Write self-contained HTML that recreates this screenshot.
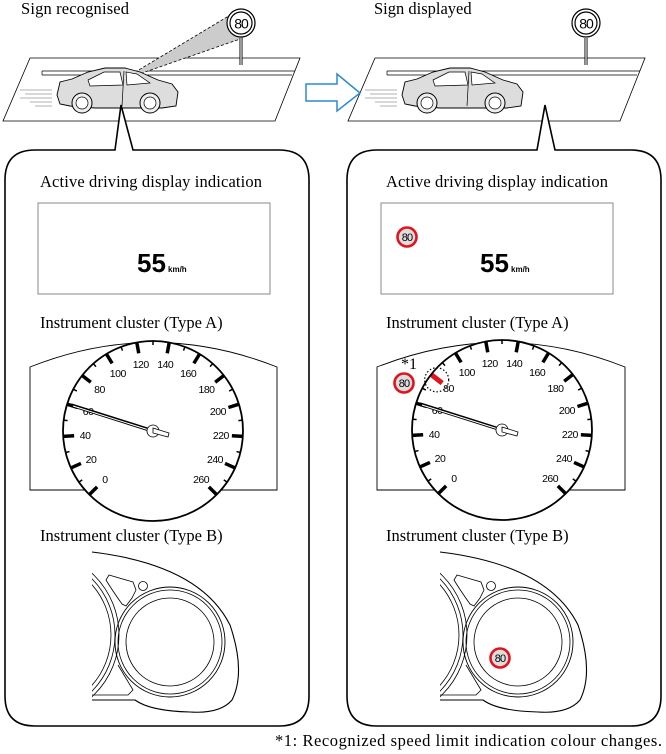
<!DOCTYPE html>
<html><head><meta charset="utf-8"><style>
html,body{margin:0;padding:0;background:#fff}
svg{display:block}
text{font-family:"Liberation Serif",serif}
.s{font-family:"Liberation Sans",sans-serif}
</style></head><body>
<svg id="g" width="666" height="754" viewBox="0 0 666 754" xmlns="http://www.w3.org/2000/svg">
<defs>
<g id="car">
  <path d="M57,95 L60,82 L72,79 L88,72 L105,68 L125,68 L140,72 L158,80 L172,84 L178,92 L176,106 L162,108 L138,108 L95,108 L70,106 L60,104 Z" fill="#ddd" stroke="#000" stroke-width="0.9"/>
  <path d="M88,80 L104,72 L120,72 L123,85 L90,86 Z M126,72 L137,74 L150,83 L127,85 Z" fill="#fff" stroke="#000" stroke-width="0.7"/>
  <line x1="124" y1="71" x2="122" y2="106" stroke="#000" stroke-width="0.7"/>
  <circle cx="82" cy="103" r="10" fill="#eee" stroke="#000"/><circle cx="82" cy="103" r="6" fill="#fff" stroke="#000" stroke-width="0.7"/>
  <circle cx="150" cy="103" r="10" fill="#eee" stroke="#000"/><circle cx="150" cy="103" r="6" fill="#fff" stroke="#000" stroke-width="0.7"/>
  <g stroke="#999" stroke-width="0.8"><line x1="20" y1="90" x2="52" y2="90"/><line x1="25" y1="94" x2="52" y2="94"/><line x1="20" y1="98" x2="52" y2="98"/><line x1="30" y1="102" x2="52" y2="102"/><line x1="35" y1="106" x2="52" y2="106"/></g>
</g>
<g id="road">
  <path d="M30,58 L300,58 L275,121 L3,121 Z" fill="#fff" stroke="#000" stroke-width="0.8"/>
  <path d="M42,71 L295,71 M42,75 L292,75 M42,71 L42,75" stroke="#000" stroke-width="0.7" fill="none"/>
</g>
<g id="rsign">
  <line x1="241" y1="38" x2="241" y2="65" stroke="#000" stroke-width="3"/>
  <line x1="241" y1="38" x2="241" y2="65" stroke="#fff" stroke-width="1.2"/>
  <circle cx="241" cy="23" r="14" fill="#fff" stroke="#000" stroke-width="1.2"/>
  <circle cx="241" cy="23" r="11" fill="#fff" stroke="#000" stroke-width="1.2"/>
  <text x="241" y="28.5" text-anchor="middle" class="s" font-size="14" letter-spacing="-1">80</text>
</g>
<g id="sign80"><circle r="9.5" fill="#ddd" stroke="#e0141e" stroke-width="2.6"/><text y="4" text-anchor="middle" class="s" font-size="11" letter-spacing="-0.8">80</text></g>
</defs>

<text x="21" y="14" font-size="16.5" textLength="108">Sign recognised</text>
<text x="374" y="14" font-size="16.5">Sign displayed</text>

<use href="#road"/>
<path d="M122,80 L232,14 L243,38 Z" fill="#ccc" stroke="#000" stroke-width="0.8" stroke-dasharray="3,2"/>
<use href="#rsign"/>
<use href="#car"/>
<g transform="translate(345,0)"><use href="#road"/><use href="#rsign"/><use href="#car"/></g>

<path d="M306,84 L337,84 L337,74 L360,93 L337,111 L337,101 L306,101 Z" fill="#fff" stroke="#2a8ad4" stroke-width="1.5"/>

<path d="M35,150 L115,150 L121,105 L133,150 L279,150 Q309,150 309,180 L309,696 Q309,726 279,726 L35,726 Q5,726 5,696 L5,180 Q5,150 35,150 Z" fill="#fff" stroke="#000" stroke-width="1.6"/>
<path d="M377,150 L537,150 L545,105 L555,150 L631,150 Q661,150 661,180 L661,696 Q661,726 631,726 L377,726 Q347,726 347,696 L347,180 Q347,150 377,150 Z" fill="#fff" stroke="#000" stroke-width="1.6"/>

<text x="40" y="187" font-size="16.5" textLength="222">Active driving display indication</text>
<text x="386" y="187" font-size="16.5" textLength="222">Active driving display indication</text>
<rect x="38" y="203" width="232" height="91" fill="#fff" stroke="#888" stroke-width="1"/>
<rect x="381" y="203" width="232" height="91" fill="#fff" stroke="#888" stroke-width="1"/>
<text x="137" y="272" class="s" font-size="26" font-weight="bold">55</text><text x="168" y="272" class="s" font-size="8" font-weight="bold">km/h</text>
<text x="480" y="272" class="s" font-size="26" font-weight="bold">55</text><text x="511" y="272" class="s" font-size="8" font-weight="bold">km/h</text>
<use href="#sign80" x="407" y="237"/>

<text x="40" y="328" font-size="16.5">Instrument cluster (Type A)</text>
<text x="386" y="328" font-size="16.5">Instrument cluster (Type A)</text>
<text x="40" y="541" font-size="16.5">Instrument cluster (Type B)</text>
<text x="386" y="541" font-size="16.5">Instrument cluster (Type B)</text>

<g id="gauges"></g>

<text x="662" y="746" text-anchor="end" font-size="16.5" textLength="387">*1: Recognized speed limit indication colour changes.</text>
</svg>
<script>
var g=document.getElementById('gauges'),h='';
function gauge(cx,cy,bx0,bx1,right){
  var r=90;
  h+='<path d="M'+bx0+',490 L'+bx0+',367 Q'+cx+',318 '+bx1+',367 L'+bx1+',490 Z" fill="#fff" stroke="#000" stroke-width="0.9"/>';
  h+='<circle cx="'+cx+'" cy="'+cy+'" r="'+r+'" fill="#fff" stroke="#000" stroke-width="1.8"/>';
  for(var v=0;v<=260;v+=10){
    var a=(-135+v*270/260)*Math.PI/180,s=Math.sin(a),c=-Math.cos(a);
    var maj=v%20==0,l=maj?11:4,w=maj?3.5:1.5;
    h+='<line x1="'+(cx+s*r)+'" y1="'+(cy+c*r)+'" x2="'+(cx+s*(r-l))+'" y2="'+(cy+c*(r-l))+'" stroke="#000" stroke-width="'+w+'"/>';
    if(maj){var lr=r-22;h+='<text class="s" x="'+(cx+s*lr)+'" y="'+(cy+c*lr+4)+'" text-anchor="middle" font-size="10.5" letter-spacing="-0.5">'+v+'</text>';}
  }
  h+='<line x1="'+(cx-82)+'" y1="'+(cy-26)+'" x2="'+cx+'" y2="'+(cy)+'" stroke="#000" stroke-width="3.5"/>';
  h+='<line x1="'+(cx-80)+'" y1="'+(cy-25)+'" x2="'+(cx-4)+'" y2="'+(cy-1)+'" stroke="#fff" stroke-width="1"/>';
  h+='<circle cx="'+cx+'" cy="'+cy+'" r="6" fill="#fff" stroke="#000" stroke-width="0.8"/>';
  h+='<path d="M'+(cx)+','+(cy-3)+' L'+(cx+16)+','+(cy+2)+' L'+(cx+15)+','+(cy+6)+' L'+(cx)+','+(cy+2)+'Z" fill="#fff" stroke="#000" stroke-width="0.8"/>';
  if(right){
    var a=(-135+80*270/260)*Math.PI/180,s=Math.sin(a),c=-Math.cos(a);
    h+='<line x1="'+(cx+s*(r-1))+'" y1="'+(cy+c*(r-1))+'" x2="'+(cx+s*(r-14))+'" y2="'+(cy+c*(r-14))+'" stroke="#e0141e" stroke-width="5"/>';
    h+='<circle cx="'+(cx+s*(r-7))+'" cy="'+(cy+c*(r-7)+1)+'" r="12" fill="none" stroke="#000" stroke-width="1.2" stroke-dasharray="1.5,2"/>';
    h+='<text x="'+(cx-101)+'" y="'+(cy-61)+'" font-size="16">*1</text>';
    h+='<use href="#sign80" x="'+(cx-98)+'" y="'+(cy-47)+'"/>';
  }
}
gauge(153,431,30,277,false);
gauge(502,430,377,625,true);
function typeB(dx,sign){
  h+='<g transform="translate('+dx+',0)" fill="none" stroke="#000">';
  h+='<clipPath id="cl'+dx+'"><rect x="92" y="545" width="160" height="170"/></clipPath>';
  h+='<path d="M92,552 Q200,565 230,625 Q246,672 232,700 Q220,714 190,712 Q150,711 135,700 L92,700" stroke-width="1.1"/>';
  h+='<g clip-path="url(#cl'+dx+')" stroke-width="0.8"><circle cx="35" cy="635" r="76"/><circle cx="35" cy="635" r="80"/><circle cx="35" cy="635" r="84"/></g>';
  h+='<path d="M92,695 L128,695 L133,690 L118,665" stroke-width="0.8"/>';
  h+='<path d="M109,575 L133,582 L136,590 L132,598 L126,606 L122,604 Q112,590 106,580 Z" stroke-width="0.8"/>';
  h+='<circle cx="143" cy="586" r="4.5" stroke-width="0.8"/>';
  h+='<circle cx="170" cy="642" r="55" stroke-width="0.9"/><circle cx="170" cy="642" r="52" stroke-width="0.8"/><circle cx="170" cy="642" r="44" stroke-width="0.8"/>';
  h+='</g>';
  if(sign)h+='<use href="#sign80" x="500" y="658"/>';
}
typeB(0,false);typeB(348,true);
g.innerHTML=h;
</script>
</body></html>
